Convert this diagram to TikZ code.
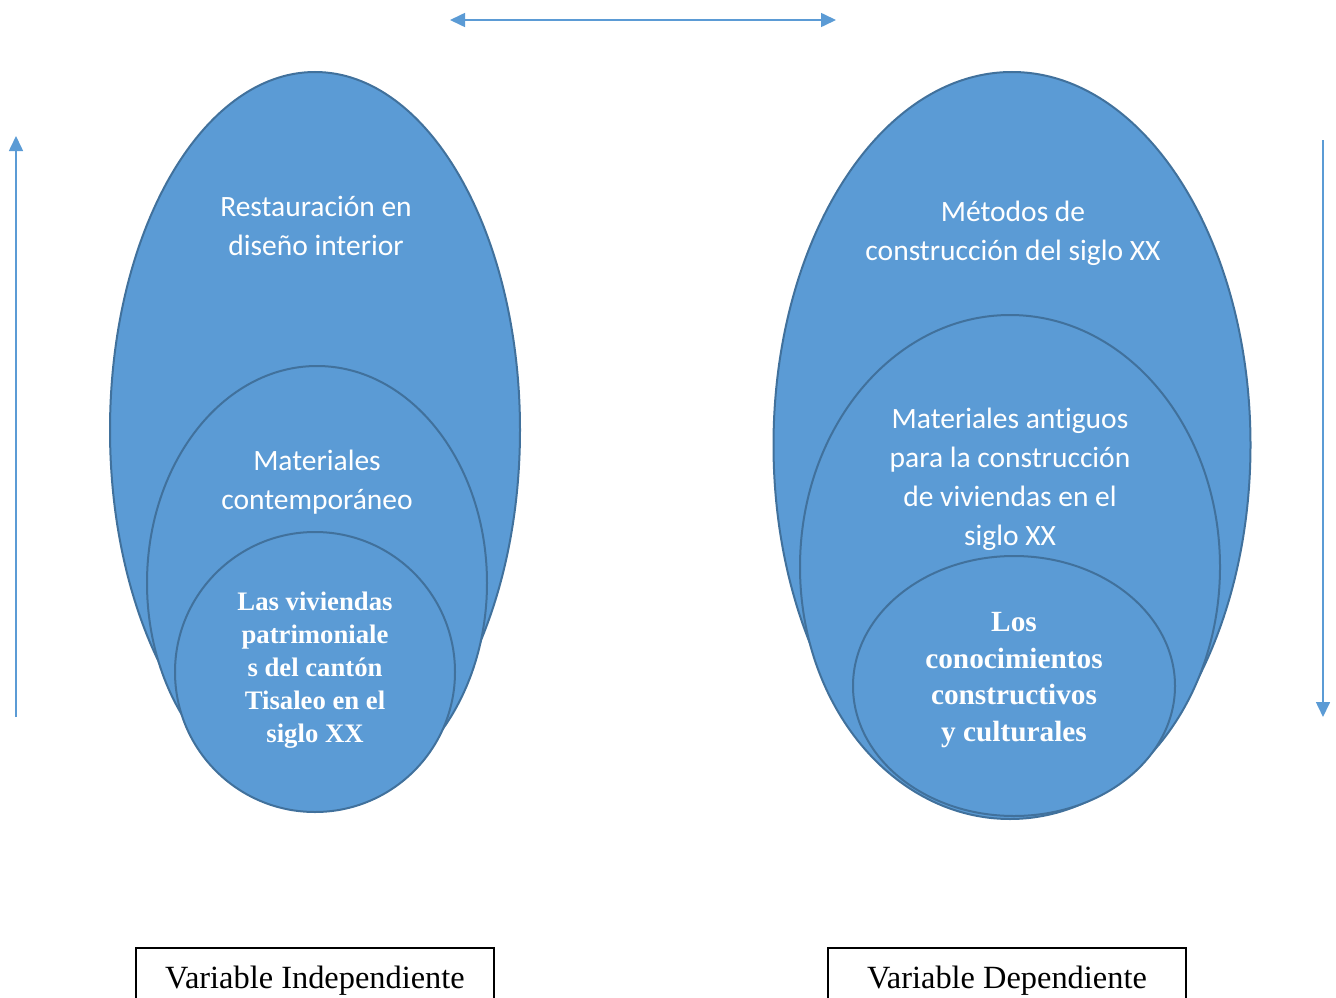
\documentclass[tikz,border=0pt]{standalone}
\usepackage{fontspec}
\setmainfont{Liberation Serif}
\newfontfamily\calib[Ligatures={NoCommon}]{Carlito}
\usetikzlibrary{arrows.meta}
\definecolor{fillblue}{HTML}{5B9BD5}
\definecolor{edgeblue}{HTML}{41719C}
\definecolor{arrowblue}{HTML}{5B9BD5}
\begin{document}
\begin{tikzpicture}[x=1pt,y=-1pt,
  bubble/.style={fill=fillblue,draw=edgeblue,line width=2pt},
  sanstext/.style={text=white,align=center,font=\calib\fontsize{29.5}{39}\selectfont},
  boldtext/.style={text=white,align=center,font=\bfseries\fontsize{26.7}{33}\selectfont},
  boldtextb/.style={text=white,align=center,font=\bfseries\fontsize{29.3}{36.7}\selectfont},
  varbox/.style={draw=black,line width=1.5pt,minimum width=358pt,minimum height=70pt,anchor=north,inner sep=0pt},
  axis/.style={draw=arrowblue,line width=1.6pt,-{Triangle[length=15pt,width=14pt]}},
  biaxis/.style={draw=arrowblue,line width=1.6pt,{Triangle[length=15pt,width=14pt]}-{Triangle[length=15pt,width=14pt]}}
]
\useasboundingbox (0,0) rectangle (1336,998);
% left ellipses
\draw[bubble] (315,430) ellipse [x radius=205, y radius=358];
\draw[bubble] (317,583) ellipse [x radius=170, y radius=217];
\draw[bubble] (315,672) ellipse [x radius=140, y radius=140];
% right ellipses
\draw[bubble] (1012,445) ellipse [x radius=238.5, y radius=373];
\draw[bubble] (1010,567) ellipse [x radius=210, y radius=252];
\draw[bubble] (1014,686) ellipse [x radius=161, y radius=130];
% texts
\node[sanstext] (t1) at (316,226) {Restauración en\\diseño interior};
\node[sanstext] (t2) at (317,482) {Materiales\\contemporáneo};
\node[boldtext] (t3) at (315,670) {Las viviendas\\patrimoniale\\s del cantón\\Tisaleo en el\\siglo XX};
\node[sanstext] (t4) at (1013,233) {Métodos de\\construcción del siglo XX};
\node[sanstext] (t5) at (1010,479) {Materiales antiguos\\para la construcción\\de viviendas en el\\siglo XX};
\node[boldtextb] (t6) at (1014,680) {Los\\conocimientos\\constructivos\\y culturales};
% boxes
\node[varbox] (vi) at (315,947) {};
\node[varbox] (vd) at (1007,947) {};
\node[font=\fontsize{32.4}{38}\selectfont,anchor=base] (vit) at (315,988) {Variable Independiente};
\node[font=\fontsize{32.4}{38}\selectfont,anchor=base] (vdt) at (1007,988) {Variable Dependiente};
% arrows
\coordinate (ha) at (450,20);
\coordinate (hb) at (836,20);
\draw[biaxis] (ha) -- (hb);
\coordinate (la) at (16,717);
\coordinate (lb) at (16,136);
\draw[axis] (la) -- (lb);
\coordinate (ra) at (1323,140);
\coordinate (rb) at (1323,717);
\draw[axis] (ra) -- (rb);
\end{tikzpicture}
\end{document}
